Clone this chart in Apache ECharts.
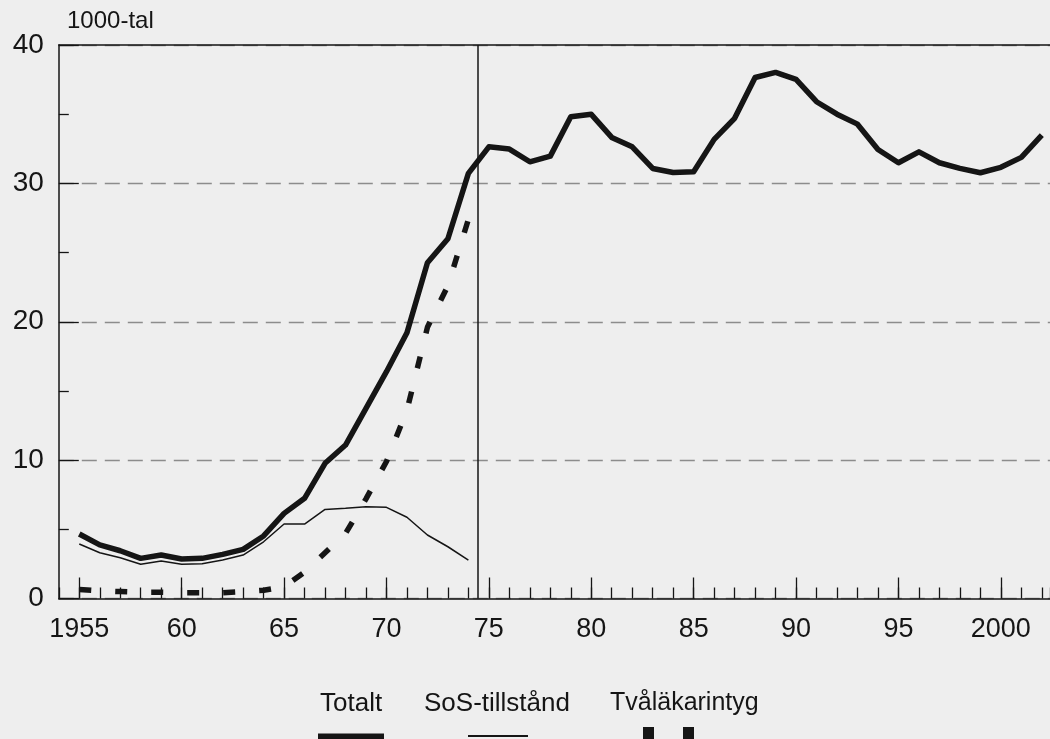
<!DOCTYPE html>
<html>
<head>
<meta charset="utf-8">
<script src="https://cdn.jsdelivr.net/npm/echarts@6/dist/echarts.min.js"></script>
<style>
html,body{margin:0;padding:0;background:#eeeeee;}
#chart{width:1050px;height:739px;}
</style>
</head>
<body>
<div id="chart"></div>
<script>
// ---- data ----
var yearsEarly = [1955,1956,1957,1958,1959,1960,1961,1962,1963,1964,1965,1966,1967,1968,1969,1970,1971,1972,1973,1974];
var yearsAll = [1955,1956,1957,1958,1959,1960,1961,1962,1963,1964,1965,1966,1967,1968,1969,1970,1971,1972,1973,1974,
                1975,1976,1977,1978,1979,1980,1981,1982,1983,1984,1985,1986,1987,1988,1989,1990,1991,1992,1993,1994,
                1995,1996,1997,1998,1999,2000,2001,2002];
var totalt = [4.66,3.87,3.45,2.9,3.14,2.85,2.9,3.19,3.55,4.52,6.15,7.24,9.77,11.09,13.74,16.39,19.2,24.26,26.0,30.72,
              32.64,32.48,31.56,31.97,34.81,34.99,33.32,32.64,31.08,30.79,30.84,33.18,34.7,37.65,38.02,37.51,35.9,35.0,34.28,32.45,
              31.49,32.28,31.49,31.08,30.77,31.16,31.88,33.49];
var sosTillstand = [3.94,3.31,2.95,2.47,2.71,2.47,2.51,2.78,3.14,4.1,5.38,5.38,6.44,6.52,6.63,6.59,5.87,4.59,3.74,2.78];
var tvalakarintyg = [0.65,0.55,0.5,0.45,0.45,0.42,0.42,0.42,0.5,0.6,0.85,1.9,3.3,4.7,7.2,9.9,13.6,19.6,22.6,27.4];
var xLabelYears = [1955,1960,1965,1970,1975,1980,1985,1990,1995,2000];
var xLabels = ['1955','60','65','70','75','80','85','90','95','2000'];
var periodBreak = 1974.45;
var seriesNames = ['Totalt','SoS-tillstånd','Tvåläkarintyg'];

function pairs(xs, ys){ var out=[]; for(var i=0;i<ys.length;i++){ out.push([xs[i], ys[i]]); } return out; }

var FONT = '"Liberation Sans", Arial, sans-serif';
var INK = '#151515';
var chart = echarts.init(document.getElementById('chart'), null, {renderer:'canvas'});

var gridPos = {left:58.8, top:45, right:0, bottom:140.5};
var XMIN = 1954, XMAX = 2002.4;

chart.setOption({
  animation:false,
  backgroundColor:'#eeeeee',
  title:{text:'1000-tal', left:62, top:4, textStyle:{fontFamily:FONT, fontSize:24, fontWeight:'normal', color:INK}},
  grid:[
    Object.assign({show:false}, gridPos),
    Object.assign({show:false}, gridPos)
  ],
  xAxis:[
    {type:'value', gridIndex:0, position:'bottom', min:XMIN, max:XMAX, interval:1,
     axisLine:{show:true, lineStyle:{color:INK, width:1.5}},
     axisTick:{show:true, inside:true, length:11, lineStyle:{color:INK, width:1.3}},
     axisLabel:{show:true, customValues:xLabelYears, margin:18, fontFamily:FONT, fontSize:27, color:INK,
       formatter:function(v){ var i=xLabelYears.indexOf(Math.round(v)); return i>=0 ? xLabels[i] : ''; }},
     splitLine:{show:false}},
    {type:'value', gridIndex:0, position:'top', min:XMIN, max:XMAX,
     axisLine:{show:true, lineStyle:{color:INK, width:1.5}},
     axisTick:{show:false}, axisLabel:{show:false}, splitLine:{show:false}},
    {type:'value', gridIndex:1, position:'bottom', min:XMIN, max:XMAX,
     axisLine:{show:false},
     axisTick:{show:true, inside:true, length:21, customValues:xLabelYears, lineStyle:{color:INK, width:1.3}},
     axisLabel:{show:false},
     splitLine:{show:false}}
  ],
  yAxis:[
    {type:'value', gridIndex:0, min:0, max:40, interval:10,
     axisLine:{show:true, lineStyle:{color:INK, width:1.5}},
     axisTick:{show:true, inside:true, length:20, lineStyle:{color:INK, width:1.3}},
     minorTick:{show:true, splitNumber:2, length:10, lineStyle:{color:INK, width:1.3}},
     axisLabel:{margin:15, fontFamily:FONT, fontSize:28, color:INK},
     splitLine:{show:true, lineStyle:{color:'#8c8c8c', width:1.3, type:[15,8]}}},
    {type:'value', gridIndex:1, min:0, max:40, show:false}
  ],
  series:[
    {name:seriesNames[0], type:'line', xAxisIndex:0, yAxisIndex:0, data:pairs(yearsAll, totalt), symbol:'none',
     lineStyle:{color:INK, width:5.5, join:'round'}, z:5,
     markLine:{silent:true, symbol:'none', label:{show:false},
       lineStyle:{color:INK, width:1.5, type:'solid'}, data:[{xAxis:periodBreak}]}},
    {name:seriesNames[1], type:'line', xAxisIndex:0, yAxisIndex:0, data:pairs(yearsEarly, sosTillstand), symbol:'none',
     lineStyle:{color:INK, width:1.5}, z:4},
    {name:seriesNames[2], type:'line', xAxisIndex:0, yAxisIndex:0, data:pairs(yearsEarly, tvalakarintyg), symbol:'none',
     lineStyle:{color:INK, width:5.5, type:[12,24], cap:'butt'}, z:3}
  ],
  graphic:[
    {type:'text', left:320, top:691, style:{text:seriesNames[0], font:'26px '+FONT, fill:INK}},
    {type:'text', left:424, top:691, style:{text:seriesNames[1], font:'26px '+FONT, fill:INK}},
    {type:'text', left:610, top:691, style:{text:seriesNames[2], font:'25px '+FONT, fill:INK}},
    {type:'line', shape:{x1:318, y1:737, x2:384, y2:737}, style:{stroke:INK, lineWidth:7}},
    {type:'line', shape:{x1:468, y1:736, x2:528, y2:736}, style:{stroke:INK, lineWidth:2}},
    {type:'rect', shape:{x:643, y:727, width:11, height:14}, style:{fill:INK}},
    {type:'rect', shape:{x:683, y:727, width:11, height:14}, style:{fill:INK}}
  ]
});
</script>
</body>
</html>
